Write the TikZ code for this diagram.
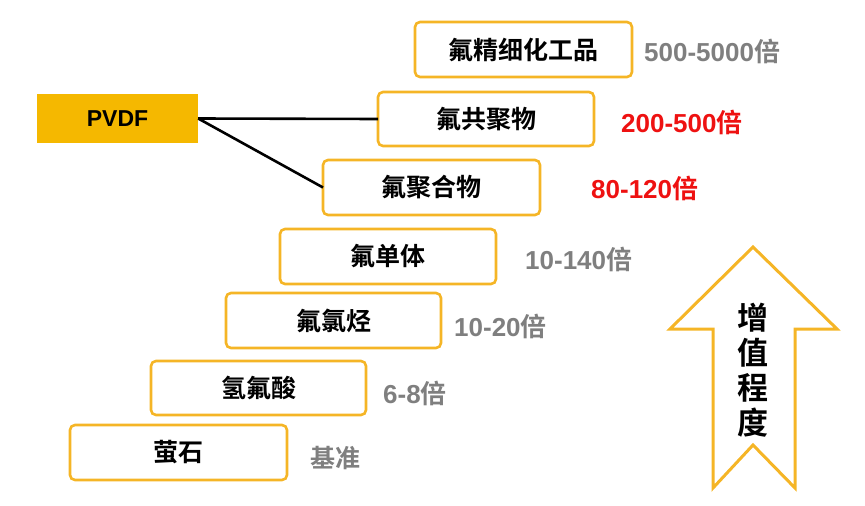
\documentclass[tikz,border=0pt]{standalone}
\usepackage{fontspec}
\setmainfont{Liberation Sans}
\newfontfamily\cjk{Noto Sans CJK SC}[BoldFont={Noto Sans CJK SC Bold}]
\definecolor{gold}{HTML}{F5B526}
\definecolor{fillgold}{HTML}{F5B800}
\definecolor{greytxt}{HTML}{7F7F7F}
\definecolor{redtxt}{HTML}{EE1111}
\newcommand\bei{{\cjk\bfseries 倍}}
\begin{document}
\begin{tikzpicture}[x=1pt,y=-1pt,
  stepbox/.style={draw=gold,line width=2.6pt,rounded corners=5pt},
  lbl/.style={font=\fontsize{25}{28}\selectfont\cjk\bfseries},
  mult/.style={anchor=west,inner sep=0,font=\fontsize{26}{28}\selectfont\bfseries,text=greytxt},
  multr/.style={mult,text=redtxt}]
\useasboundingbox (0,0) rectangle (865,506);
\newcommand\stepbx[6]{\draw[stepbox] (#2,#3) rectangle (#4,#5); \node[lbl] (#1) at ({(#2+#4)/2},{(#3+#5)/2}) {#6};
  \coordinate (#1w) at (#2,{(#3+#5)/2});}
\stepbx{b1}{415}{22}{632}{77}{氟精细化工品}
\stepbx{b2}{378}{92}{594}{146}{氟共聚物}
\stepbx{b3}{323}{160}{540}{215}{氟聚合物}
\stepbx{b4}{280}{229}{496}{284}{氟单体}
\stepbx{b5}{226}{293}{441}{348}{氟氯烃}
\stepbx{b6}{151}{361}{366}{415}{氢氟酸}
\stepbx{b7}{70}{425}{287}{480}{萤石}
\node[fill=fillgold,minimum width=161pt,minimum height=49pt,inner sep=0,font=\fontsize{23}{26}\selectfont\bfseries] (pvdf) at (117.5,118.5) {PVDF};
\draw[line width=2.6pt] (pvdf.east) -- (b2w);
\draw[line width=2.6pt] (pvdf.east) -- (b3w);
\node[mult] (m1) at (644,51) {500-5000\bei};
\node[multr] (m2) at (621,122) {200-500\bei};
\node[multr] (m3) at (591,188) {80-120\bei};
\node[mult] (m4) at (525,259) {10-140\bei};
\node[mult] (m5) at (454,326) {10-20\bei};
\node[mult] (m6) at (383,393) {6-8\bei};
\node[mult,font=\fontsize{25}{28}\selectfont\cjk\bfseries] (m7) at (310,458) {基准};
\draw[gold,line width=3pt,line join=miter] (753,247) -- (837,329) -- (795,329) -- (795,488) -- (753,445) -- (713,488) -- (713,329) -- (670,329) -- cycle;
\node[align=center,font=\fontsize{31}{35}\selectfont\cjk\bfseries] (arr) at (753,370) {增\\值\\程\\度};
\end{tikzpicture}
\end{document}
